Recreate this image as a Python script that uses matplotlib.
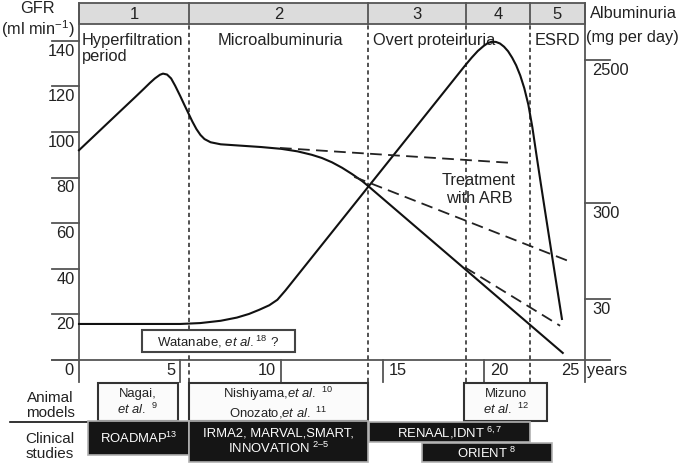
import matplotlib
matplotlib.use("Agg")
import matplotlib.pyplot as plt
from matplotlib.patches import Rectangle

plt.rcParams['font.family'] = ['Liberation Sans', 'DejaVu Sans']
plt.rcParams['mathtext.fontset'] = 'custom'
plt.rcParams['mathtext.rm'] = 'Liberation Sans'
plt.rcParams['mathtext.it'] = 'Liberation Sans:italic'
plt.rcParams['mathtext.bf'] = 'Liberation Sans:bold'

# ---------------- data ----------------
phase_numbers = ["1", "2", "3", "4", "5"]
phase_bounds = [0, 5.43, 14.28, 19.12, 22.28, 25]
phase_names = ["Hyperfiltration\nperiod", "Microalbuminuria", "Overt proteinuria", "ESRD"]

gfr_ticks = [0, 20, 40, 60, 80, 100, 120, 140]
year_ticks = [0, 5, 10, 15, 20, 25]
alb_tick_labels = ["2500", "300", "30"]
alb_tick_levels = [131.6, 68.9, 26.8]   # position on the (schematic) shared vertical scale

gfr_years = [0, 1.0, 2.0, 2.8, 3.2, 3.5, 3.75, 4.0, 4.15, 4.35, 4.55, 4.75, 5.0, 5.2,
             5.4, 5.6, 5.8, 6.0, 6.2, 6.5, 7.0, 8.0, 9.0, 10.0, 10.8, 11.5, 12.0, 12.5,
             13.0, 13.5, 14.0, 14.3, 23.9]
gfr_values = [92, 100.4, 108.8, 115.5, 118.9, 121.5, 123.5, 125.1, 125.6, 125.2, 123.5,
              120.3, 115.8, 112.0, 108.3, 104.6, 101.3, 98.7, 96.9, 95.5, 94.6, 94.0,
              93.4, 92.6, 91.5, 90.0, 88.6, 86.7, 84.3, 81.5, 78.4, 76.2, 3.1]

alb_years = [0, 5.0, 6.0, 7.0, 7.8, 8.4, 8.9, 9.4, 9.8, 10.2, 19.07, 19.4, 19.7, 20.0,
             20.2, 20.4, 20.6, 20.8, 21.0, 21.2, 21.4, 21.6, 21.8, 22.0, 22.2, 22.4,
             22.6, 22.8, 23.0, 23.37, 23.86]
alb_level = [15.8, 15.8, 16.2, 17.2, 18.6, 20.2, 22.0, 24.0, 26.4, 30.5, 129.1, 132.6,
             135.5, 137.8, 139.0, 139.6, 139.5, 138.8, 137.4, 135.4, 132.6, 129.2, 124.8,
             119.2, 112.0, 102.0, 90.0, 78.3, 66.8, 45.7, 18.0]

arb_start_year = [9.93, 13.6, 19.07]
arb_start_gfr = [93.0, 80.3, 40.6]
arb_end_year = [21.44, 24.16, 23.77]
arb_end_gfr = [86.4, 43.5, 15.0]

animal_labels = ["Nagai,\n$\\mathit{et\\ al.}$ $^{9}$",
                 "Nishiyama,$\\mathit{et\\ al.}$ $^{10}$\nOnozato,$\\mathit{et\\ al.}$ $^{11}$",
                 "Mizuno\n$\\mathit{et\\ al.}$ $^{12}$"]
animal_start = [0.92, 5.43, 19.02]
animal_end = [4.88, 14.28, 23.14]

clinical_labels = ["ROADMAP$^{13}$",
                   "IRMA2, MARVAL,SMART,\nINNOVATION $^{2\u20135}$",
                   "RENAAL,IDNT $^{6,7}$",
                   "ORIENT $^{8}$"]
clinical_start = [0.46, 5.43, 14.33, 16.96]
clinical_end = [5.43, 14.28, 22.28, 23.35]
clinical_top = [-26.6, -26.6, -27.06, -36.4]
clinical_bottom = [-41.7, -44.6, -35.8, -44.6]

# ---------------- figure ----------------
fig = plt.figure(figsize=(6.85, 4.64), dpi=100)
ax = fig.add_axes([0, 0, 1, 1])
ax.set_xlim(-3.903, 29.94)
ax.set_ylim(-45.18, 158.33)
ax.axis('off')

AX_COL = '#555555'
TXT = '#222222'
FS = 11.8
head_bot, head_top = 147.4, 156.6
low_ext = -9.6

# header band
ax.add_patch(Rectangle((0, head_bot), 25, head_top - head_bot, fc='#dcdcdc',
                       ec=AX_COL, lw=1.3, zorder=2))
for i, num in enumerate(phase_numbers):
    a, b = phase_bounds[i], phase_bounds[i + 1]
    ax.text((a + b) / 2, (head_bot + head_top) / 2, num, ha='center', va='center',
            fontsize=12, color=TXT, zorder=3)
    if i > 0:
        ax.plot([a, a], [head_bot, head_top], color=AX_COL, lw=1.3, zorder=3)

# phase dashed lines
for b in phase_bounds[1:-1]:
    ax.plot([b, b], [low_ext, head_bot], color='#333333', lw=1.2,
            dashes=(2.5, 2), zorder=4)

# phase names
ax.text(0.15, 143.9, phase_names[0], ha='left', va='top', fontsize=FS, color=TXT,
        linespacing=1.05)
ax.text(6.87, 143.9, phase_names[1], ha='left', va='top', fontsize=FS, color=TXT)
ax.text(14.53, 143.9, phase_names[2], ha='left', va='top', fontsize=FS, color=TXT)
ax.text(22.53, 143.9, phase_names[3], ha='left', va='top', fontsize=FS, color=TXT)

# axes lines
ax.plot([0, 0], [low_ext, head_top], color=AX_COL, lw=1.3)
ax.plot([25, 25], [low_ext, head_top], color=AX_COL, lw=1.3)
ax.plot([-1.33, 26.23], [0, 0], color=AX_COL, lw=1.3)

# left ticks (0 label is drawn with the year ticks)
for v in gfr_ticks:
    ax.plot([-1.33, 0], [v, v], color=AX_COL, lw=1.3)
    if v > 0:
        ax.text(-0.2, v - 0.8, str(v), ha='right', va='top', fontsize=FS, color=TXT)

# right ticks
for lab, v in zip(alb_tick_labels, alb_tick_levels):
    ax.plot([25, 26.23], [v, v], color=AX_COL, lw=1.3)
    ax.text(25.35, v - 0.8, lab, ha='left', va='top', fontsize=FS, color=TXT)

# x ticks
for yv in year_ticks:
    if 0 < yv < 25:
        ax.plot([yv, yv], [low_ext, 0], color=AX_COL, lw=1.3)
    if yv in (15, 20):
        ax.text(yv + 0.3, -4.0, str(yv), ha='left', va='center', fontsize=FS, color=TXT)
    else:
        ax.text(yv - 0.25, -4.0, str(yv), ha='right', va='center', fontsize=FS, color=TXT)
ax.text(25.1, -4.0, "years", ha='left', va='center', fontsize=FS, color=TXT)

# axis titles
ax.text(-2.03, 154.8, "GFR", ha='center', va='center', fontsize=FS, color=TXT)
ax.text(-2.03, 145.6, "(ml min$^{\u22121}$)", ha='center', va='center', fontsize=FS, color=TXT)
ax.text(25.25, 152.6, "Albuminuria", ha='left', va='center', fontsize=FS, color=TXT)
ax.text(25.03, 142.1, "(mg per day)", ha='left', va='center', fontsize=FS, color=TXT)

# curves
ax.plot(gfr_years, gfr_values, color='#111111', lw=1.5, zorder=5,
        solid_joinstyle='round')
ax.plot(alb_years, alb_level, color='#111111', lw=1.5, zorder=5,
        solid_joinstyle='round')
for x0, y0, x1, y1 in zip(arb_start_year, arb_start_gfr, arb_end_year, arb_end_gfr):
    ax.plot([x0, x1], [y0, y1], color='#222222', lw=1.3, dashes=(6.5, 3.5), zorder=5)
ax.text(19.76, 75.4, "Treatment\nwith ARB", ha='center', va='center', fontsize=FS,
        color=TXT, linespacing=1.25, zorder=6)

# Watanabe box
ax.add_patch(Rectangle((3.1, 3.5), 7.57, 9.7, fc='white', ec='#444444', lw=1.5, zorder=6))
ax.text(6.88, 8.35, "Watanabe, $\\mathit{et\\ al.}^{18}$ ?", ha='center', va='center',
        fontsize=9.5, color=TXT, zorder=7)

# bottom row labels
ax.text(-1.43, -19.5, "Animal\nmodels", ha='center', va='center', fontsize=11,
        color=TXT, linespacing=1.1)
ax.text(-1.43, -37.5, "Clinical\nstudies", ha='center', va='center', fontsize=11,
        color=TXT, linespacing=1.1)
ax.plot([-3.41, 0.46], [-27.2, -27.2], color='#111111', lw=1.2)

for lab, a, b in zip(animal_labels, animal_start, animal_end):
    ax.add_patch(Rectangle((a, -26.6), b - a, 16.5, fc='#fbfbfb', ec='#333333',
                           lw=1.5, zorder=6))
    ax.text((a + b) / 2, -18.35, lab, ha='center', va='center', fontsize=9.4,
            color=TXT, linespacing=1.15, zorder=7)

for lab, a, b, t, bt in zip(clinical_labels, clinical_start, clinical_end,
                            clinical_top, clinical_bottom):
    ax.add_patch(Rectangle((a, bt), b - a, t - bt, fc='#151515', ec='#b0b0b0',
                           lw=1.2, zorder=8))
    ax.text((a + b) / 2, (t + bt) / 2, lab, ha='center', va='center', fontsize=9.4,
            color='white', linespacing=1.1, zorder=9)

fig.savefig("out.png", dpi=100)
